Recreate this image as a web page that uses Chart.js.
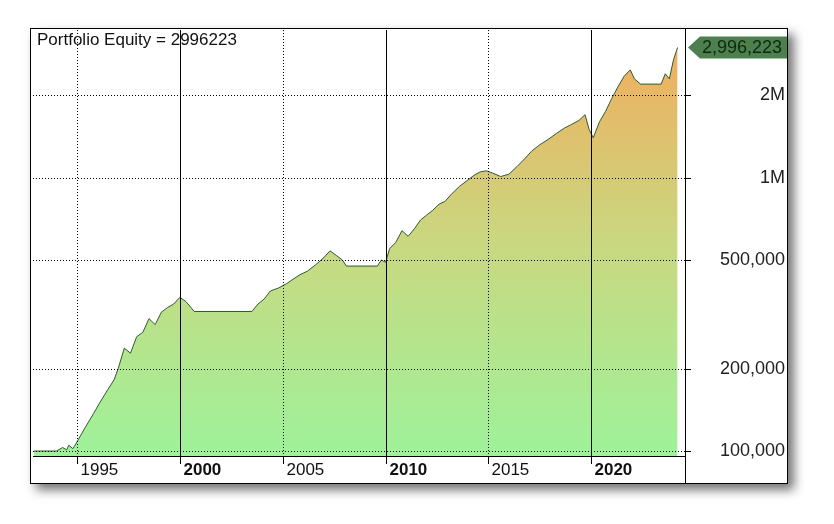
<!DOCTYPE html>
<html>
<head>
<meta charset="utf-8">
<script src="https://cdn.jsdelivr.net/npm/chart.js@4"></script>
<style>
  body { margin: 0; background: #fff; }
  #frame { position: absolute; left: 30px; top: 28px; width: 758px; height: 456px;
           border: 1px solid #000; box-sizing: border-box; background: #fff;
           box-shadow: 6px 6px 10px rgba(0,0,0,0.55); }
</style>
</head>
<body>
<div id="frame"><canvas id="c"></canvas></div>
<script>
// equity curve (year, value)
const years = [1992.9, 1994.0, 1994.3, 1994.5, 1994.6, 1994.8, 1995.0, 1995.4, 1995.8, 1996.1, 1996.5, 1996.8,
  1997.0, 1997.3, 1997.6, 1997.9, 1998.2, 1998.5, 1998.8, 1999.1, 1999.4, 1999.7, 2000.0, 2000.3, 2000.7,
  2003.5, 2003.8, 2004.1, 2004.4, 2004.8, 2005.2, 2005.5, 2005.8, 2006.2, 2006.6, 2007.0, 2007.3, 2007.6,
  2007.9, 2008.1, 2009.6, 2009.8, 2010.0, 2010.2, 2010.5, 2010.8, 2011.1, 2011.4, 2011.7, 2012.0, 2012.3,
  2012.6, 2012.9, 2013.2, 2013.6, 2014.0, 2014.3, 2014.6, 2014.9, 2015.2, 2015.6, 2016.0, 2016.4, 2016.8,
  2017.1, 2017.5, 2017.9, 2018.3, 2018.7, 2019.0, 2019.4, 2019.7, 2019.9, 2020.1, 2020.4, 2020.7, 2021.0,
  2021.3, 2021.6, 2021.9, 2022.1, 2022.4, 2023.4, 2023.6, 2023.8, 2024.0, 2024.2];
const equity = [100000, 100000, 103000, 101000, 105000, 102000, 108000, 122000, 137000, 150000, 168000, 182000,
  200000, 238000, 228000, 262000, 272000, 305000, 290000, 322000, 335000, 345000, 365000, 352000, 324000,
  324000, 345000, 360000, 385000, 395000, 410000, 425000, 440000, 455000, 480000, 510000, 540000, 520000,
  500000, 475000, 475000, 500000, 490000, 550000, 580000, 640000, 610000, 650000, 700000, 730000, 760000,
  800000, 820000, 870000, 930000, 980000, 1020000, 1050000, 1060000, 1040000, 1010000, 1030000, 1100000, 1180000,
  1250000, 1320000, 1380000, 1450000, 1520000, 1560000, 1620000, 1700000, 1500000, 1400000, 1600000, 1750000, 1950000,
  2150000, 2350000, 2480000, 2300000, 2200000, 2200000, 2400000, 2300000, 2700000, 2996223];
const yTicks = [100000, 200000, 500000, 1000000, 2000000];
const yLabels = ['100,000', '200,000', '500,000', '1M', '2M'];
const xTicks = [1995, 2000, 2005, 2010, 2015, 2020];
const lastValue = '2,996,223';

const deco = {
  id: 'deco',
  afterDatasetsDraw(chart) {
    const { ctx, chartArea: a, scales: { x, y } } = chart;
    ctx.save();
    ctx.strokeStyle = '#000';
    ctx.lineWidth = 1;
    // horizontal dotted grid + right tick marks
    yTicks.forEach((v, i) => {
      const py = Math.round(y.getPixelForValue(v)) + 0.5;
      ctx.setLineDash([1, 2]);
      ctx.beginPath(); ctx.moveTo(a.left, py); ctx.lineTo(a.right, py); ctx.stroke();
      ctx.setLineDash([]);
      ctx.beginPath(); ctx.moveTo(a.right, py); ctx.lineTo(a.right + 6, py); ctx.stroke();
      ctx.font = '18px "Liberation Sans", Arial';
      ctx.fillStyle = '#222';
      ctx.textAlign = 'right'; ctx.textBaseline = 'middle';
      ctx.fillText(yLabels[i], a.right + 100, py);
    });
    // vertical grid
    xTicks.forEach(v => {
      const px = Math.round(x.getPixelForValue(v)) + 0.5;
      const bold = v % 10 === 0;
      ctx.setLineDash(bold ? [] : [1, 2]);
      ctx.beginPath(); ctx.moveTo(px, a.top); ctx.lineTo(px, a.bottom); ctx.stroke();
      ctx.setLineDash([]);
      ctx.beginPath(); ctx.moveTo(px, a.bottom); ctx.lineTo(px, a.bottom + 8); ctx.stroke();
      ctx.font = (bold ? 'bold ' : '') + '17px "Liberation Sans", Arial';
      ctx.fillStyle = '#111';
      ctx.textAlign = 'left'; ctx.textBaseline = 'middle';
      ctx.fillText(String(v), px + 3, a.bottom + 14);
    });
    // axis borders
    ctx.beginPath();
    ctx.moveTo(a.left, a.bottom + 0.5); ctx.lineTo(a.right, a.bottom + 0.5);
    ctx.moveTo(a.right + 0.5, 0); ctx.lineTo(a.right + 0.5, chart.height);
    ctx.stroke();
    // title
    ctx.font = '17px "Liberation Sans", Arial';
    ctx.fillStyle = '#111';
    ctx.textAlign = 'left'; ctx.textBaseline = 'top';
    ctx.fillText('Portfolio Equity = 2996223', a.left + 4, a.top + 2);
    // last value tag
    const ty = y.getPixelForValue(equity[equity.length - 1]);
    const tx = a.right + 3;
    ctx.fillStyle = '#4d7f4f';
    ctx.beginPath();
    ctx.moveTo(tx, ty); ctx.lineTo(tx + 12, ty - 11); ctx.lineTo(chart.width, ty - 11);
    ctx.lineTo(chart.width, ty + 11); ctx.lineTo(tx + 12, ty + 11); ctx.closePath(); ctx.fill();
    ctx.fillStyle = '#0d2a0d';
    ctx.font = '18px "Liberation Sans", Arial';
    ctx.textBaseline = 'middle';
    ctx.fillText(lastValue, tx + 14, ty + 1);
    ctx.restore();
  }
};

new Chart(document.getElementById('c'), {
  type: 'line',
  data: {
    datasets: [{
      data: years.map((t, i) => ({ x: t, y: equity[i] })),
      borderColor: '#2f5a2f',
      borderWidth: 1,
      pointRadius: 0,
      tension: 0,
      fill: 'start',
      backgroundColor(ctx) {
        const a = ctx.chart.chartArea;
        if (!a) return '#a0f0a0';
        const g = ctx.chart.ctx.createLinearGradient(0, a.bottom, 0, a.top);
        g.addColorStop(0, '#9ef29a');
        g.addColorStop(0.5, '#c9d880');
        g.addColorStop(1, '#f3aa5c');
        return g;
      }
    }]
  },
  options: {
    responsive: true,
    maintainAspectRatio: false,
    animation: false,
    layout: { padding: { left: 2, top: 1, right: 0, bottom: 0 } },
    plugins: { legend: { display: false }, tooltip: { enabled: false } },
    scales: {
      x: {
        type: 'linear', min: 1992.86, max: 2024.56,
        grid: { display: false }, border: { display: false },
        ticks: { display: false },
        afterFit(s) { s.height = 27; }
      },
      y: {
        type: 'logarithmic', position: 'right', min: 95900, max: 3470000,
        grid: { display: false }, border: { display: false },
        ticks: { display: false },
        afterFit(s) { s.width = 102; }
      }
    }
  },
  plugins: [deco]
});
</script>
</body>
</html>
